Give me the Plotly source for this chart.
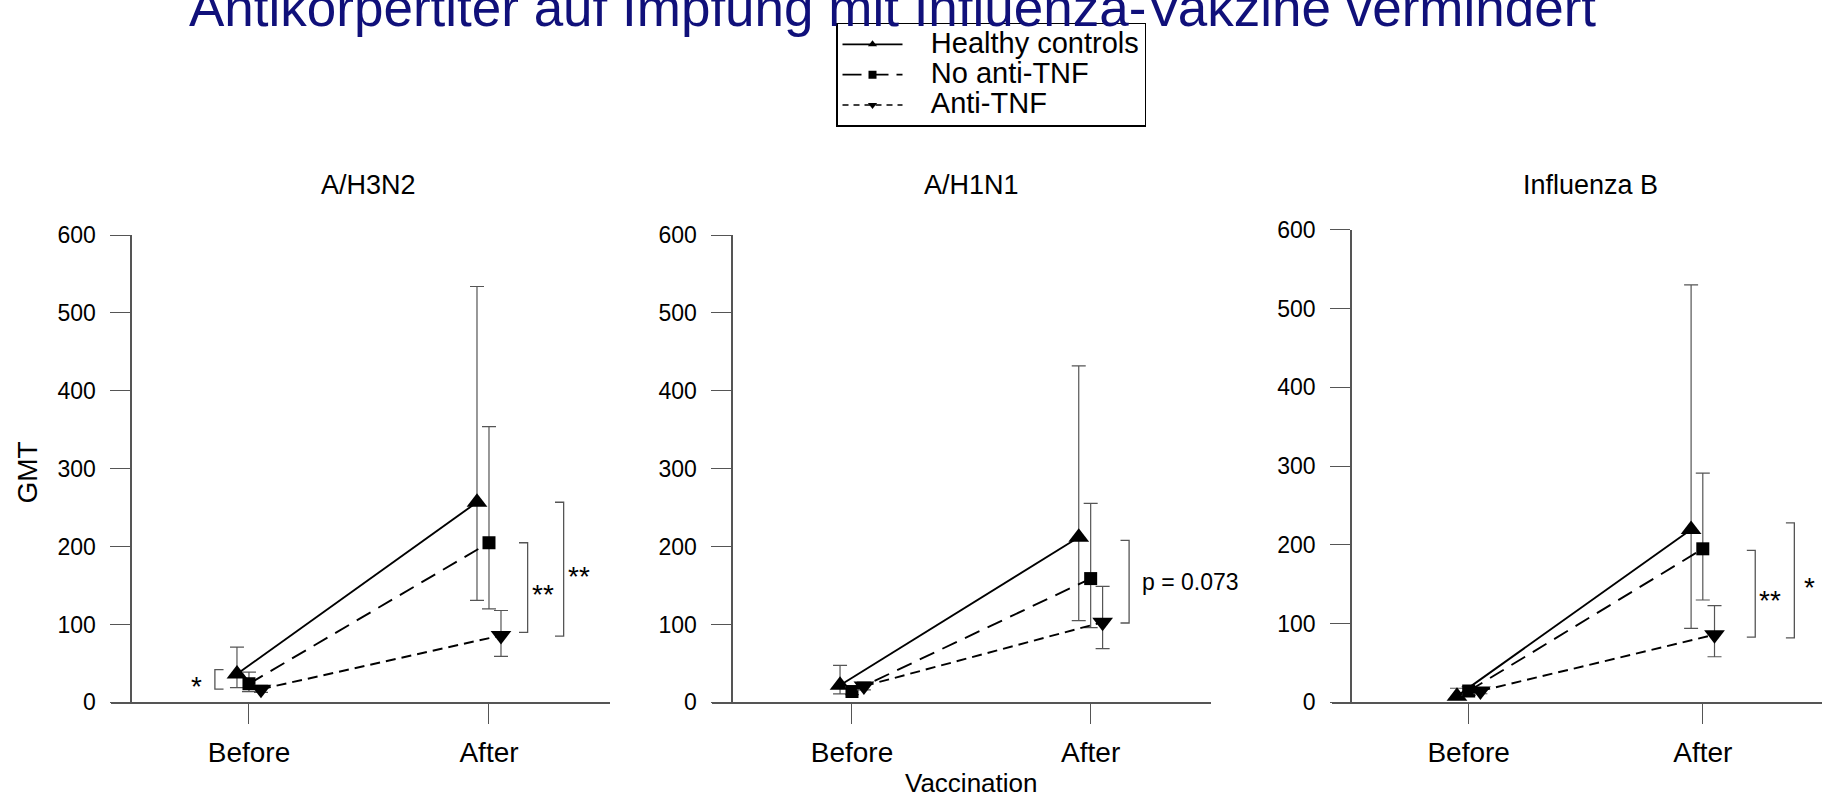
import plotly.graph_objects as go

# ---------------- data ----------------
PANELS = ["A/H3N2", "A/H1N1", "Influenza B"]
TIMEPOINTS = ["Before", "After"]
GROUPS = ["Healthy controls", "No anti-TNF", "Anti-TNF"]

# geometric mean titres (Before, After) per panel
HC_MEAN = [[36.5, 257], [22, 212], [8, 219.5]]
HC_HI = [[71, 534], [47.5, 432], [18, 530]]
HC_LO = [[19, 131], [11, 105], [4, 94]]

NA_MEAN = [[24, 205], [14, 159], [14.5, 195]]
NA_HI = [[39, 354], [20, 255.5], [20, 291]]
NA_LO = [[14, 120], [10, 96], [9, 130]]

AT_MEAN = [[17, 86], [21, 103], [14.5, 86]]
AT_HI = [[22, 118], [26, 149], [18, 123]]
AT_LO = [[13, 59], [16, 69], [11, 58]]

Y_TICKS = [0, 100, 200, 300, 400, 500, 600]

# significance brackets: (panel, x position, y top, y bottom, label, arm direction)
BRACKETS = [
    (0, 1.161, 205, 90, "**", -1),
    (0, 1.311, 257, 85, "**", -1),
    (0, -0.142, 42, 17, "*", 1),
    (1, 1.161, 208, 102, "p = 0.073", -1),
    (2, 1.224, 193, 83, "**", -1),
    (2, 1.391, 228, 82, "*", -1),
]

# ---------------- styling ----------------
W, H = 1835, 803
FONT = "Liberation Sans, Arial, Helvetica, sans-serif"
AX_COLOR = "#555555"
DODGE = [-0.05, 0.0, 0.05]
STYLES = [
    dict(dash="solid", symbol="triangle-up", size=18, leg_dash="solid"),
    dict(dash="16px,9px", symbol="square", size=13, leg_dash="19px,8px"),
    dict(dash="10px,6px", symbol="triangle-down", size=18, leg_dash="6px,5px"),
]
# pixel geometry of each panel
XPIX = [(111.2, 610.2), (712.1, 1210.5), (1331.5, 1822.2)]
XRANGE = [(-0.574, 1.505), (-0.586, 1.502), (-0.586, 1.51)]
YAXPIX = [131.2, 732.2, 1351.0]
YPIX = [(229.5, 712.5), (229.5, 712.5), (224.0, 712.5)]
TITLE_X = [0.5, 0.5, 0.52]

fig = go.Figure()

means = [HC_MEAN, NA_MEAN, AT_MEAN]
his = [HC_HI, NA_HI, AT_HI]
los = [HC_LO, NA_LO, AT_LO]

for p in range(3):
    sfx = "" if p == 0 else str(p + 1)
    for g in range(3):
        m = means[g][p]
        hi = his[g][p]
        lo = los[g][p]
        xs = [i + DODGE[g] for i in range(len(TIMEPOINTS))]
        st = STYLES[g]
        fig.add_trace(go.Scatter(
            x=xs, y=m, xaxis="x" + sfx, yaxis="y" + sfx,
            mode="lines+markers", showlegend=False, cliponaxis=False,
            line=dict(color="black", width=1.9, dash=st["dash"]),
            marker=dict(symbol=st["symbol"], size=st["size"], color="black",
                        line=dict(width=0)),
            error_y=dict(type="data", symmetric=False,
                         array=[h - v for h, v in zip(hi, m)],
                         arrayminus=[v - l for v, l in zip(m, lo)],
                         color=AX_COLOR, thickness=1.2, width=7),
        ))

# legend entries (no data, legend symbols only)
for g in range(3):
    st = STYLES[g]
    fig.add_trace(go.Scatter(
        x=[None], y=[None], mode="lines+markers",
        name='&nbsp;&nbsp;&nbsp;&nbsp;<span style="font-size:29px">' + GROUPS[g] + "</span>",
        line=dict(color="black", width=1.6, dash=st["leg_dash"]),
        marker=dict(symbol=st["symbol"], size=8, color="black"),
    ))

layout = dict(
    width=W, height=H,
    margin=dict(l=0, r=0, t=0, b=0),
    paper_bgcolor="white", plot_bgcolor="white",
    font=dict(family=FONT, color="black"),
    showlegend=True,
    legend=dict(x=836 / W, y=1 - 10 / H, xanchor="left", yanchor="top",
                bordercolor="black", borderwidth=1.5, bgcolor="white",
                font=dict(size=21, family=FONT), itemwidth=60,
                tracegroupgap=0),
)

annotations = []
shapes = []
for p in range(3):
    sfx = "" if p == 0 else str(p + 1)
    x0, x1 = XPIX[p]
    ytop, ybot = YPIX[p]
    layout["xaxis" + sfx] = dict(
        domain=[x0 / W, x1 / W], range=list(XRANGE[p]), anchor="y" + sfx,
        showline=True, linecolor=AX_COLOR, linewidth=1.6,
        ticks="outside", ticklen=20, tickwidth=1.4, tickcolor=AX_COLOR,
        tickvals=list(range(len(TIMEPOINTS))), ticktext=TIMEPOINTS,
        tickfont=dict(size=28), showgrid=False, zeroline=False,
        ticklabelstandoff=4,
    )
    layout["yaxis" + sfx] = dict(
        domain=[1 - ybot / H, 1 - ytop / H], range=[0, 600],
        anchor="free", position=YAXPIX[p] / W,
        showline=True, linecolor=AX_COLOR, linewidth=1.6,
        ticks="outside", ticklen=20, tickwidth=1.4, tickcolor=AX_COLOR,
        tickvals=Y_TICKS, tickfont=dict(size=23), showgrid=False,
        zeroline=False, ticklabelstandoff=10,
    )
    annotations.append(dict(
        text=PANELS[p], xref="x" + sfx, yref="paper", x=TITLE_X[p],
        y=1 - 178 / H, showarrow=False, font=dict(size=27),
        xanchor="center", yanchor="middle"))

for (p, bx, ytop_v, ybot_v, label, direction) in BRACKETS:
    sfx = "" if p == 0 else str(p + 1)
    arm = 0.036 * direction
    shapes.append(dict(
        type="path", xref="x" + sfx, yref="y" + sfx,
        path=f"M {bx + arm},{ytop_v} L {bx},{ytop_v} L {bx},{ybot_v} L {bx + arm},{ybot_v}",
        line=dict(color=AX_COLOR, width=1.3)))
    ymid = (ytop_v + ybot_v) / 2
    if label.startswith("p"):
        annotations.append(dict(text=label, xref="x" + sfx, yref="y" + sfx,
                                x=bx + 0.045, y=ymid, showarrow=False,
                                xanchor="left", yanchor="middle",
                                font=dict(size=23)))
    else:
        tx = bx + (0.065 if direction < 0 else -0.075)
        annotations.append(dict(text=label, xref="x" + sfx, yref="y" + sfx,
                                x=tx, y=ymid, showarrow=False,
                                xanchor="center", yanchor="middle", yshift=-7,
                                font=dict(size=28)))

annotations.append(dict(text="GMT", xref="paper", yref="paper", x=28 / W,
                        y=1 - 475 / H, textangle=-90, showarrow=False,
                        font=dict(size=28), xanchor="center", yanchor="middle"))
annotations.append(dict(text="Vaccination", xref="x2", yref="paper", x=0.5,
                        y=1 - 796 / H, showarrow=False, font=dict(size=26),
                        xanchor="center", yanchor="middle"))
annotations.append(dict(text="Antikörpertiter auf Impfung mit Influenza-Vakzine vermindert",
                        xref="paper", yref="paper", x=892 / W, y=1 - 27 / H,
                        showarrow=False, font=dict(size=53, color="#10107a"),
                        xanchor="center", yanchor="bottom"))

layout["annotations"] = annotations
layout["shapes"] = shapes
fig.update_layout(**layout)

fig.write_html("out.html", config={"displayModeBar": False},
               post_script="document.body.style.margin='0';document.body.style.overflow='hidden';")
